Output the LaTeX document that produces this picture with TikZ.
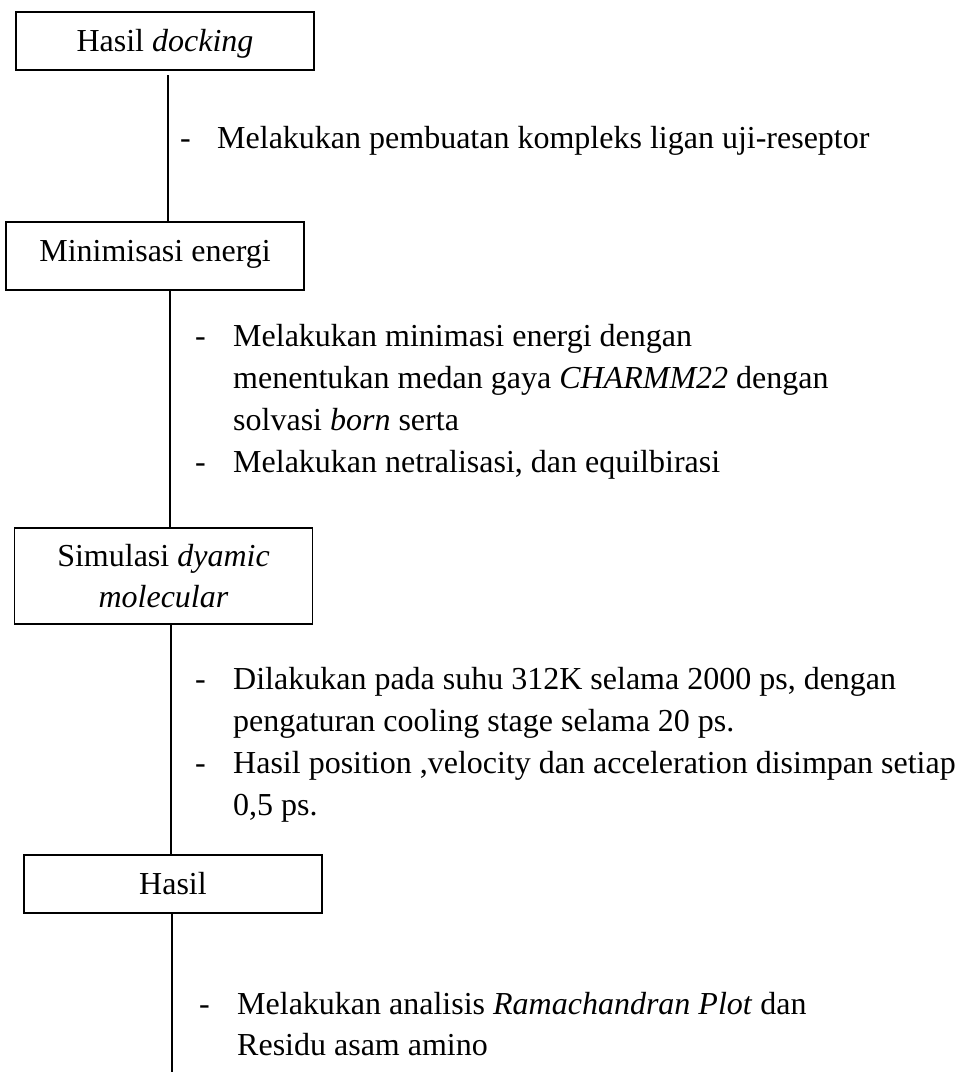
\documentclass[tikz,border=0pt]{standalone}
\usepackage{fontspec}
\setmainfont{Liberation Serif}
\begin{document}
\begin{tikzpicture}[x=1pt,y=-1pt,
  box/.style={draw, line width=1.5pt, minimum width=298pt, inner sep=0pt,
    font=\fontsize{32}{41}\selectfont, align=center},
  oneline/.style={text height=21pt, text depth=0pt},
  conn/.style={line width=1.6pt},
  txt/.style={anchor=base west, inner sep=0pt, font=\fontsize{32}{42}\selectfont}]
\useasboundingbox (0,0) rectangle (960,1072);

% boxes
\node[box, oneline, minimum height=58pt] (b1) at (165,41) {Hasil \textit{docking}};
\node[box, oneline, minimum height=68pt] (b2) at (155,256) {\raisebox{5pt}{Minimisasi energi}};
\node[box, minimum height=96pt] (b3) at (163.5,576) {Simulasi \textit{dyamic}\\\textit{molecular}};
\node[box, oneline, minimum height=58pt] (b4) at (173,884) {Hasil};

% connectors
\coordinate (c1) at (168,75);
\coordinate (c2) at (170,0);
\coordinate (c3) at (171,0);
\coordinate (c4) at (172,0);
\coordinate (end) at (172,1072);
\draw[conn] (c1) -- (c1 |- b2.north);
\draw[conn] (c2 |- b2.south) -- (c2 |- b3.north);
\draw[conn] (c3 |- b3.south) -- (c3 |- b4.north);
\draw[conn] (c4 |- b4.south) -- (end);

% block 1
\node[txt] (d1) at (180,148) {-};
\node[txt] (t1) at (217,148) {Melakukan pembuatan kompleks ligan uji-reseptor};

% block 2
\node[txt] (d2a) at (195,346) {-};
\node[txt] (t2a) at (233,346) {Melakukan minimasi energi dengan};
\node[txt] (t2b) at (233,388) {menentukan medan gaya \textit{CHARMM22} dengan};
\node[txt] (t2c) at (233,430) {solvasi \textit{born} serta};
\node[txt] (d2b) at (195,472) {-};
\node[txt] (t2d) at (233,472) {Melakukan netralisasi, dan equilbirasi};

% block 3
\node[txt] (d3a) at (195,689) {-};
\node[txt] (t3a) at (233,689) {Dilakukan pada suhu 312K selama 2000 ps, dengan};
\node[txt] (t3b) at (233,731) {pengaturan cooling stage selama 20 ps.};
\node[txt] (d3b) at (195,773) {-};
\node[txt] (t3c) at (233,773) {Hasil position ,velocity dan acceleration disimpan setiap};
\node[txt] (t3d) at (233,815) {0,5 ps.};

% block 4
\node[txt] (d4) at (199,1014) {-};
\node[txt] (t4a) at (237,1014) {Melakukan analisis \textit{Ramachandran Plot} dan};
\node[txt] (t4b) at (237,1055) {Residu asam amino};
\end{tikzpicture}
\end{document}
